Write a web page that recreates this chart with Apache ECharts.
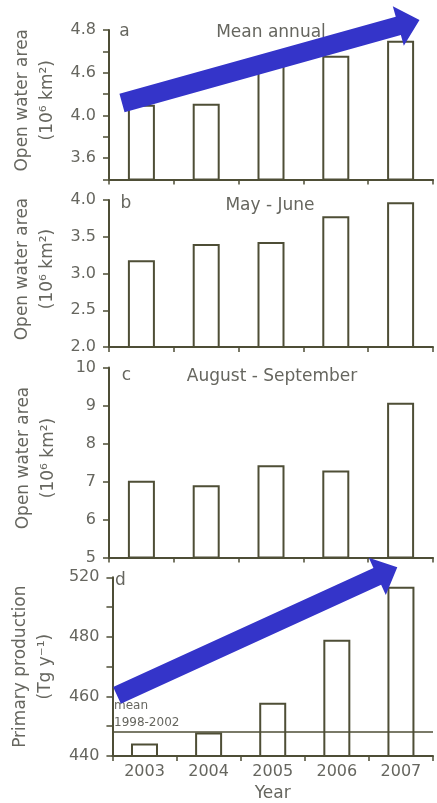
<!DOCTYPE html>
<html>
<head>
<meta charset="utf-8">
<script src="https://cdn.jsdelivr.net/npm/echarts@6/dist/echarts.min.js"></script>
<style>
  html, body { margin: 0; padding: 0; background: #ffffff; }
  #chart { width: 437px; height: 803px; }
</style>
</head>
<body>
<div id="chart"></div>
<script>
// Years shown on every panel
const years = ['2003', '2004', '2005', '2006', '2007'];

// a: mean annual open water area (10^6 km^2)
const meanAnnual = [4.10, 4.11, 4.48, 4.56, 4.70];
// b: May - June open water area (10^6 km^2)
const mayJune = [3.18, 3.40, 3.43, 3.78, 3.97];
// c: August - September open water area (10^6 km^2)
const augSep = [7.02, 6.90, 7.43, 7.29, 9.07];
// d: primary production (Tg per year) and the 1998-2002 mean
const primaryProduction = [444.2, 447.9, 457.9, 479.0, 496.8];
const ppMean = 448.2;

// Labelled tick positions and the text printed at them
const tickValuesA = [3.6, 4.0, 4.4, 4.8];
const tickLabelsA = ['3.6', '4.0', '4.6', '4.8'];
const tickValuesD = [440, 460, 480, 500];
const tickLabelsD = ['440', '460', '480', '520'];

const INK = '#4e4e36';
const TEXT = '#66665f';
const FONT = 'DejaVu Sans';
const ARROW = '#3434c9';

function pickLabel(values, labels) {
  return function (v) {
    for (let i = 0; i < values.length; i++) {
      if (Math.abs(values[i] - v) < 1e-6) return labels[i];
    }
    return '';
  };
}

const grids = [
  { left: 109, width: 324, top: 30, height: 149.5 },
  { left: 109, width: 324, top: 200, height: 147 },
  { left: 109, width: 324, top: 367.5, height: 190 },
  { left: 109, width: 324, top: 577.3, height: 179.7 }
];

function xAxisFor(i, showLabels) {
  return {
    type: 'category',
    gridIndex: i,
    data: years,
    boundaryGap: true,
    axisLine: { show: true, lineStyle: { color: INK, width: 2 } },
    axisTick: { show: true, length: 5, lineStyle: { color: INK, width: 1.5 } },
    axisLabel: {
      show: showLabels, margin: 8, fontSize: 16, fontFamily: FONT, color: TEXT
    },
    name: showLabels ? 'Year' : '',
    nameLocation: 'middle',
    nameGap: 29,
    nameTextStyle: { fontSize: 17, fontFamily: FONT, color: TEXT },
    splitLine: { show: false }
  };
}

function yAxisFor(i, cfg) {
  return {
    type: 'value',
    gridIndex: i,
    min: cfg.min,
    max: cfg.max,
    interval: cfg.interval,
    axisLine: { show: true, lineStyle: { color: INK, width: 2 } },
    axisTick: { show: true, length: 6, lineStyle: { color: INK, width: 1.5 } },
    axisLabel: {
      margin: 13, fontSize: 16, fontFamily: FONT, color: TEXT,
      showMinLabel: true, showMaxLabel: true,
      formatter: cfg.formatter
    },
    splitLine: { show: false },
    name: cfg.name,
    nameLocation: 'middle',
    nameRotate: 90,
    nameGap: 48,
    nameTextStyle: {
      fontSize: 17, fontFamily: FONT, color: TEXT, lineHeight: 25,
      padding: cfg.namePad || 0
    }
  };
}

function barSeries(i, data, extra) {
  return Object.assign({
    type: 'bar',
    xAxisIndex: i,
    yAxisIndex: i,
    data: data,
    barWidth: 27,
    itemStyle: { color: '#ffffff', borderColor: INK, borderWidth: 2 },
    silent: true,
    animation: false
  }, extra || {});
}

// Broad arrow drawn as a polygon: tail centre, tip, shaft width, head width, head length
function arrowPoints(tail, tip, shaftW, headW, headL) {
  const dx = tip[0] - tail[0], dy = tip[1] - tail[1];
  const len = Math.hypot(dx, dy);
  const ux = dx / len, uy = dy / len;
  const nx = -uy, ny = ux;
  const bx = tip[0] - ux * headL, by = tip[1] - uy * headL;
  const p = (cx, cy, s) => [cx + nx * s, cy + ny * s];
  return [
    p(tail[0], tail[1], shaftW / 2),
    p(bx, by, shaftW / 2),
    p(bx, by, headW / 2),
    tip,
    p(bx, by, -headW / 2),
    p(bx, by, -shaftW / 2),
    p(tail[0], tail[1], -shaftW / 2)
  ];
}

function label(text, x, y, size, align) {
  return {
    type: 'text',
    z: 50,
    style: {
      text: text, x: x, y: y,
      fontSize: size, fontFamily: FONT, fill: TEXT,
      align: align || 'center', verticalAlign: 'middle'
    }
  };
}

const chart = echarts.init(document.getElementById('chart'), null, { renderer: 'canvas' });

chart.setOption({
  backgroundColor: '#ffffff',
  animation: false,
  grid: grids,
  xAxis: [xAxisFor(0, false), xAxisFor(1, false), xAxisFor(2, false), xAxisFor(3, true)],
  yAxis: [
    yAxisFor(0, {
      min: 3.4, max: 4.8, interval: 0.2,
      formatter: pickLabel(tickValuesA, tickLabelsA),
      name: 'Open water area\n(10⁶ km²)', namePad: [0, 0, 0, 9]
    }),
    yAxisFor(1, {
      min: 2.0, max: 4.0, interval: 0.5,
      formatter: v => v.toFixed(1),
      name: 'Open water area\n(10⁶ km²)', namePad: [0, 0, 0, 9]
    }),
    yAxisFor(2, {
      min: 5, max: 10, interval: 1,
      formatter: v => String(v),
      name: 'Open water area\n(10⁶ km²)', namePad: [0, 0, 0, 9]
    }),
    yAxisFor(3, {
      min: 440, max: 500, interval: 10,
      formatter: pickLabel(tickValuesD, tickLabelsD),
      name: 'Primary production\n(Tg y⁻¹)'
    })
  ],
  series: [
    barSeries(0, meanAnnual),
    barSeries(1, mayJune),
    barSeries(2, augSep),
    barSeries(3, primaryProduction, {
      markLine: {
        silent: true,
        symbol: ['none', 'none'],
        label: { show: false },
        lineStyle: { color: INK, width: 1.5, type: 'solid' },
        z: 20,
        data: [{ yAxis: ppMean }]
      }
    })
  ],
  graphic: [
    label('a', 124.5, 32, 17),
    label('Mean annual', 271, 33, 17),
    label('b', 126, 204, 17),
    label('May - June', 270, 205.5, 17),
    label('c', 126.5, 375.5, 17),
    label('August - September', 272, 376.5, 17),
    label('d', 120.5, 580.5, 17),
    label('mean', 114, 706, 12, 'left'),
    label('1998-2002', 114, 722.5, 12, 'left'),
    {
      type: 'polygon', z: 60,
      shape: { points: arrowPoints([122, 103], [419.5, 20], 19, 41, 22) },
      style: { fill: ARROW }
    },
    {
      type: 'polygon', z: 60,
      shape: { points: arrowPoints([117, 695.3], [397.3, 567.3], 18.5, 41, 22) },
      style: { fill: ARROW }
    }
  ]
});
</script>
</body>
</html>
